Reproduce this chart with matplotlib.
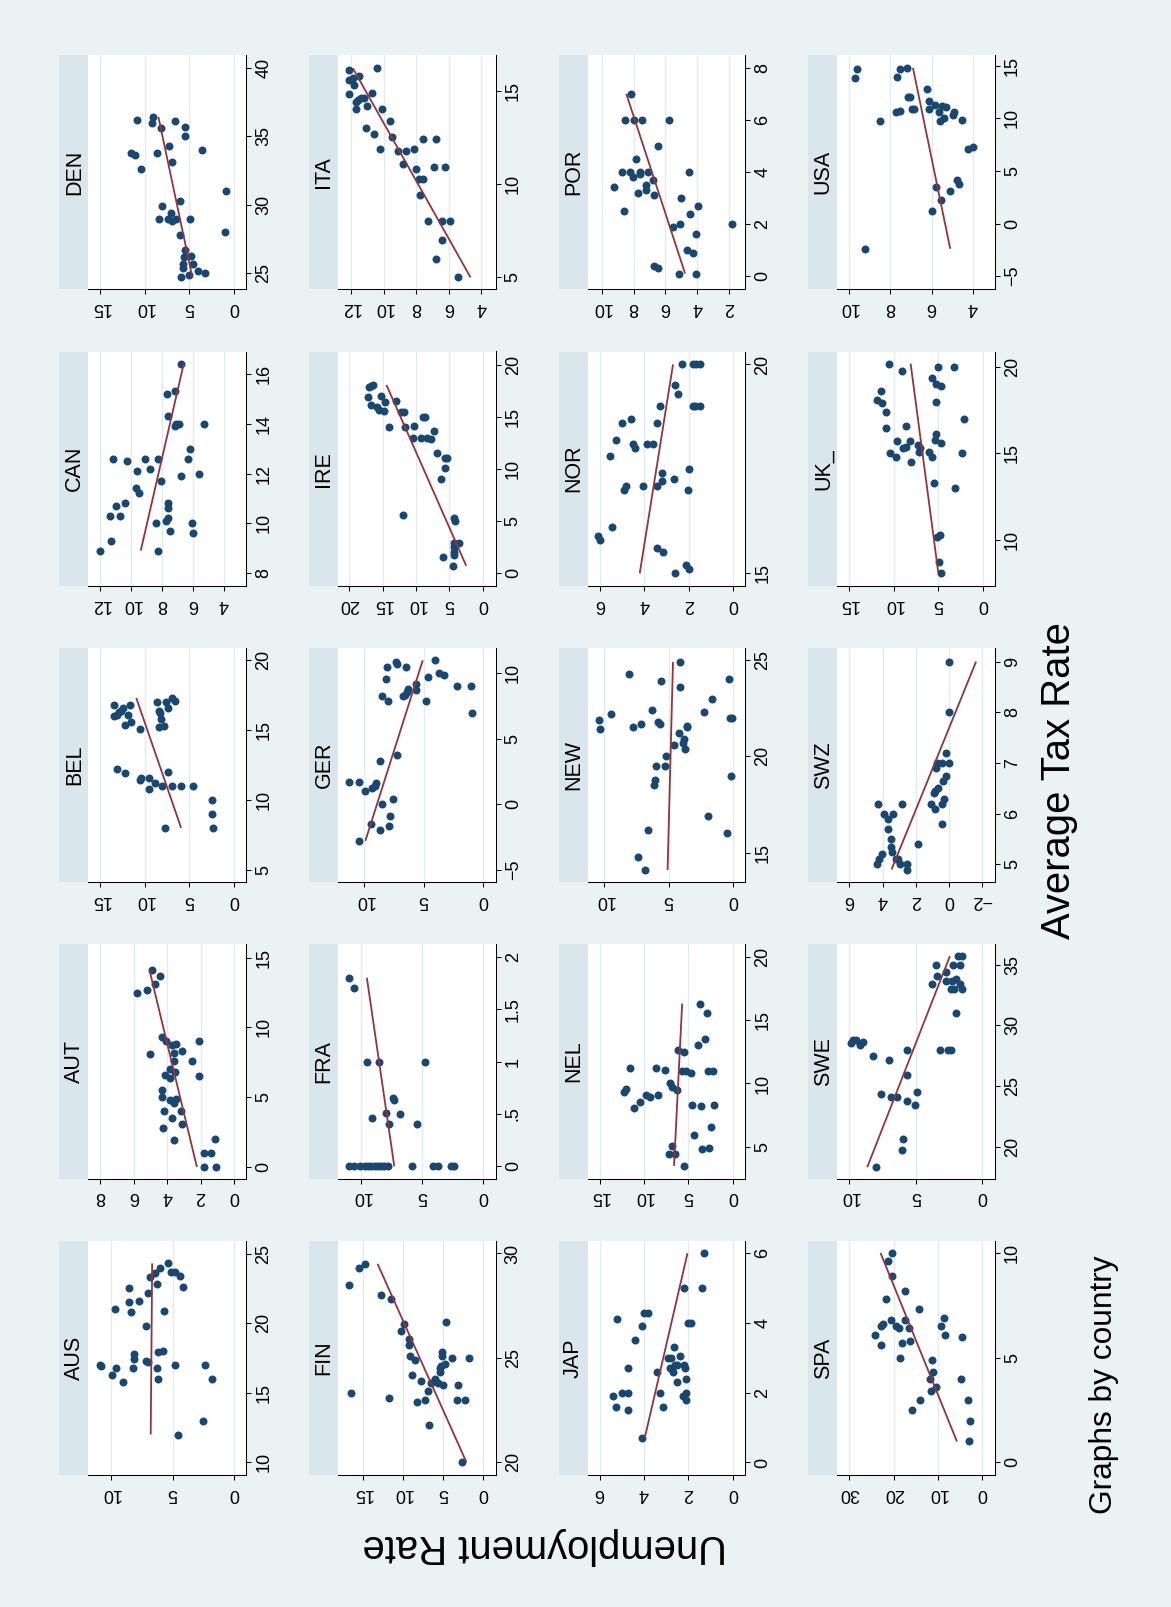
import numpy as np
import matplotlib
matplotlib.use("Agg")
import matplotlib.pyplot as plt

# ---------------------------------------------------------------- data
countries = ["AUS", "AUT", "BEL", "CAN", "DEN",
             "FIN", "FRA", "GER", "IRE", "ITA",
             "JAP", "NEL", "NEW", "NOR", "POR",
             "SPA", "SWE", "SWZ", "UK_", "USA"]

aus_tax = [24.3, 24.0, 23.6, 23.3, 23.7, 23.7, 23.4, 22.6, 22.8, 22.5, 22.2, 21.5, 21.6, 21.0, 20.8, 20.9, 19.8, 17.8,
           17.4, 17.9, 18.0, 17.3, 17.2, 17.0, 16.9, 16.8, 16.8, 16.8, 17.0, 17.0, 16.3, 15.8, 16.0, 16.0, 13.0, 12.0]
aus_unemp = [5.4, 6.0, 6.4, 6.8, 5.1, 4.8, 4.4, 4.2, 6.3, 8.5, 7.0, 8.5, 7.7, 9.7, 8.4, 5.7, 7.2, 8.1,
             8.1, 6.2, 5.8, 7.2, 7.0, 10.9, 10.8, 9.6, 8.2, 6.3, 4.8, 2.4, 9.9, 9.0, 6.2, 1.8, 2.5, 4.6]

aut_tax = [14.1, 13.7, 13.1, 12.7, 12.5, 9.3, 9.0, 9.0, 8.75, 8.8, 8.2, 8.3, 8.1, 7.6, 7.6, 7.0, 6.8, 6.6,
           6.4, 6.5, 5.5, 5.0, 4.8, 4.85, 4.6, 4.0, 4.0, 3.5, 2.8, 3.1, 1.9, 2.0, 1.0, 1.0, 0.0, 0.0]
aut_unemp = [4.9, 4.4, 4.75, 5.2, 5.8, 4.3, 4.05, 2.1, 3.7, 3.5, 3.6, 3.1, 5.0, 3.6, 2.5, 3.8, 3.55, 4.1,
             3.8, 2.1, 4.3, 4.3, 3.8, 3.5, 3.6, 4.2, 3.2, 3.7, 4.25, 3.1, 3.6, 1.15, 1.8, 1.35, 1.8, 1.1]

bel_tax = [16.8, 16.8, 16.6, 16.4, 16.3, 16.1, 16.0, 16.1, 15.6, 15.4, 15.1, 17.0, 17.3, 17.1, 17.0, 16.6, 16.4, 16.2,
           15.8, 15.2, 15.3, 12.2, 11.9, 12.0, 11.6, 11.6, 11.4, 11.2, 11.0, 11.0, 11.0, 11.0, 10.8, 10.0, 9.0, 8.0, 8.0]
bel_unemp = [13.5, 11.7, 12.5, 12.7, 12.9, 13.1, 13.5, 11.9, 11.6, 12.2, 10.6, 8.6, 7.0, 6.6, 7.6, 7.4, 8.4, 8.3,
             8.2, 8.4, 7.9, 13.1, 12.2, 7.4, 10.4, 9.5, 10.5, 8.9, 8.1, 6.9, 6.0, 4.6, 9.5, 2.5, 2.5, 2.4, 7.7]

can_tax = [16.4, 15.3, 15.2, 14.3, 14.0, 14.0, 13.9, 14.0, 13.0, 12.6, 12.6, 12.5, 12.6, 12.6, 12.2, 12.1, 12.0, 11.9,
           11.7, 11.4, 11.2, 10.8, 10.7, 10.8, 10.6, 10.2, 10.1, 10.3, 10.3, 10.0, 10.0, 9.7, 9.6, 9.3, 8.9, 8.9]
can_unemp = [6.8, 7.2, 7.7, 7.6, 6.9, 7.1, 7.2, 5.3, 6.2, 6.3, 11.2, 10.3, 9.1, 8.3, 8.8, 9.6, 5.6, 6.8,
             8.1, 9.7, 9.5, 10.4, 11.0, 7.6, 7.6, 7.6, 7.75, 11.4, 10.7, 8.4, 6.1, 7.5, 6.0, 11.3, 12.0, 8.3]

den_tax = [36.2, 36.4, 36.0, 36.1, 35.7, 35.6, 35.0, 34.3, 33.8, 33.6, 33.8, 34.0, 33.1, 32.6, 31.0, 30.3, 29.9, 29.4,
           29.0, 29.0, 28.8, 29.0, 29.0, 27.8, 28.0, 26.7, 26.3, 26.2, 25.7, 25.7, 25.4, 25.2, 25.0, 24.9, 24.7]
den_unemp = [10.9, 9.1, 9.2, 6.6, 5.5, 8.2, 5.5, 7.3, 11.6, 11.1, 8.6, 3.6, 6.9, 10.4, 0.9, 6.1, 8.1, 7.1,
             8.4, 7.4, 7.0, 6.5, 4.9, 6.1, 1.0, 5.5, 4.8, 5.6, 4.6, 5.7, 5.7, 4.0, 3.3, 5.0, 5.9]

fin_tax = [29.5, 29.3, 28.5, 28.0, 27.8, 26.6, 26.3, 26.7, 25.9, 25.6, 25.1, 24.9, 25.3, 25.1, 25.0, 25.0, 24.7, 24.6,
           24.5, 24.3, 24.2, 23.9, 24.0, 23.8, 23.8, 23.7, 23.7, 23.4, 23.3, 23.1, 22.9, 23.0, 23.0, 23.0, 21.8, 20.0]
fin_unemp = [14.7, 15.5, 16.7, 12.75, 11.5, 9.9, 10.3, 4.6, 9.2, 9.2, 9.1, 8.5, 5.1, 5.1, 3.9, 1.75, 4.7, 5.2,
             5.4, 5.4, 8.9, 7.75, 6.0, 6.5, 5.6, 5.0, 3.1, 6.9, 16.5, 11.8, 8.3, 7.3, 3.2, 2.3, 6.7, 2.6]

fra_tax = [1.8, 1.7, 1.0, 1.0, 1.0, 0.65, 0.63, 0.51, 0.50, 0.46, 0.40, 0.40,
           0, 0, 0, 0, 0, 0, 0, 0, 0, 0, 0, 0, 0, 0, 0, 0]
fra_unemp = [11.0, 10.6, 9.5, 8.55, 4.8, 7.4, 7.3, 8.0, 6.8, 9.1, 7.7, 5.4,
             11.0, 10.6, 10.1, 9.7, 9.45, 9.2, 8.9, 8.6, 8.4, 8.1, 7.8, 5.8, 4.1, 3.7, 2.6, 2.4]

ger_tax = [11.0, 10.9, 10.7, 10.5, 10.5, 10.0, 9.9, 9.7, 9.6, 9.2, 9.0, 9.0, 8.8, 8.6, 8.7, 8.3, 8.35, 8.3,
           7.9, 7.9, 7.0, 3.8, 3.3, 1.7, 1.7, 1.6, 1.4, 1.25, 1.0, 0.4, 0.0, -0.9, -1.5, -1.7, -2.0, -2.8]
ger_unemp = [4.0, 7.3, 7.2, 8.1, 6.5, 3.7, 3.3, 4.6, 8.2, 5.6, 2.2, 1.0, 6.3, 6.4, 5.65, 6.7, 6.6, 8.5,
             8.0, 4.8, 0.9, 7.2, 8.7, 11.3, 10.4, 9.0, 9.1, 9.35, 9.9, 7.6, 8.5, 7.8, 9.4, 7.9, 8.7, 10.4]

ire_tax = [18.05, 17.9, 17.8, 16.9, 17.0, 16.5, 16.4, 16.1, 15.9, 15.6, 15.5, 15.4, 15.4, 15.0, 15.0, 14.0, 14.0, 14.1,
           13.6, 13.0, 13.0, 13.0, 12.9, 11.5, 11.0, 11.0, 10.1, 9.0, 5.6, 5.3, 5.0, 2.9, 2.9, 2.5, 2.05, 1.7, 1.5, 0.7]
ire_unemp = [16.4, 16.8, 17.1, 17.2, 15.2, 13.0, 14.7, 16.8, 15.8, 15.6, 14.8, 12.2, 11.8, 9.0, 8.7, 14.0, 11.6, 10.3,
             7.3, 10.5, 9.3, 8.4, 7.8, 6.8, 5.7, 5.3, 5.7, 6.2, 11.9, 4.3, 4.2, 4.4, 3.6, 4.3, 4.3, 4.4, 6.0, 4.5]

ita_tax = [16.1, 16.2, 15.6, 15.7, 15.8, 15.3, 14.8, 14.9, 14.4, 14.5, 14.6, 14.6, 14.2, 14.0, 14.0, 13.4, 13.0, 12.7,
           12.5, 12.4, 12.4, 11.9, 11.8, 11.8, 11.9, 11.1, 10.8, 10.9, 10.9, 10.3, 10.3, 9.4, 8.0, 8.0, 8.0, 7.0, 6.0, 5.0]
ita_unemp = [12.1, 10.4, 12.1, 11.9, 11.5, 11.8, 12.1, 10.7, 11.7, 11.55, 11.4, 11.2, 11.0, 11.7, 10.1, 9.6, 11.1, 10.6,
             9.5, 7.6, 6.8, 10.2, 9.1, 8.65, 8.1, 8.8, 8.0, 6.9, 6.2, 7.8, 7.6, 7.75, 7.3, 6.4, 5.9, 6.4, 6.8, 5.4]

jap_tax = [6.0, 5.0, 5.0, 4.3, 4.3, 4.1, 3.9, 4.0, 4.0, 3.5, 3.3, 3.0, 3.0, 3.05, 2.7, 2.7, 2.8, 2.8,
           2.8, 2.7, 2.6, 2.6, 2.4, 2.3, 2.0, 2.0, 2.0, 1.9, 2.0, 1.9, 1.8, 1.6, 1.6, 1.5, 0.7]
jap_unemp = [1.3, 2.2, 1.4, 4.0, 3.8, 5.2, 4.1, 2.0, 1.9, 4.4, 2.65, 2.9, 2.8, 2.4, 4.7, 2.85, 2.6, 2.5,
             2.2, 2.15, 2.7, 3.4, 2.1, 2.5, 5.0, 4.7, 3.3, 5.4, 2.1, 2.25, 2.1, 5.25, 3.15, 4.7, 4.1]

nel_tax = [16.3, 15.55, 13.5, 13.0, 12.6, 12.45, 11.2, 11.2, 11.1, 11.0, 11.0, 11.0, 11.0, 10.8, 10.0, 9.7, 9.5, 9.6,
           9.3, 9.1, 8.9, 9.1, 8.5, 8.1, 8.3, 8.2, 8.3, 6.6, 5.9, 5.1, 4.8, 4.9, 4.4, 4.4, 3.5]
nel_unemp = [3.7, 2.9, 3.15, 3.9, 6.2, 5.5, 11.6, 8.6, 7.6, 5.7, 5.3, 2.85, 2.25, 4.7, 7.1, 6.8, 6.3, 12.0,
             12.2, 9.75, 9.3, 8.4, 10.5, 11.1, 4.6, 3.6, 2.1, 2.5, 4.35, 6.9, 3.5, 2.7, 7.2, 6.5, 5.55]

new_tax = [24.9, 24.3, 23.9, 24.0, 23.6, 23.0, 22.4, 22.2, 22.3, 21.9, 22.0, 22.0, 21.8, 21.7, 21.7, 21.5, 21.6, 21.5,
           21.4, 21.2, 20.9, 20.6, 20.7, 20.4, 20.0, 19.5, 19.5, 19.0, 18.8, 18.5, 16.9, 16.2, 16.0, 14.8, 14.1]
new_unemp = [4.1, 8.1, 5.6, 0.3, 4.1, 1.6, 6.3, 9.5, 2.25, 10.4, 0.25, 0.05, 5.8, 5.7, 7.15, 7.8, 3.55, 3.6,
             10.3, 4.2, 3.8, 4.6, 3.9, 3.7, 5.2, 6.0, 5.3, 0.15, 6.05, 6.1, 1.9, 6.6, 0.45, 7.4, 6.8]

nor_tax = [20.0, 20.0, 20.0, 20.0, 19.5, 19.3, 19.0, 19.0, 19.0, 19.0, 18.7, 18.6, 18.6, 18.2, 18.1, 18.0, 18.1, 18.1,
           17.8, 17.5, 17.4, 17.25, 17.2, 17.1, 17.0, 17.1, 17.1, 17.0, 16.1, 15.9, 15.8, 15.6, 15.5, 15.2, 15.1, 15.0]
nor_unemp = [2.3, 1.8, 1.65, 1.5, 2.6, 2.5, 3.3, 1.8, 1.7, 1.5, 4.6, 5.0, 3.45, 5.3, 4.5, 4.45, 3.9, 3.6,
             5.55, 2.0, 3.2, 2.65, 3.2, 4.85, 4.95, 4.05, 3.45, 2.05, 5.45, 6.1, 6.0, 3.45, 3.15, 2.1, 2.0, 2.6]

por_tax = [7.0, 6.0, 6.0, 6.0, 6.0, 5.0, 4.5, 4.0, 4.0, 4.0, 4.0, 4.0, 3.8, 3.9, 3.7, 3.4, 3.5, 3.3,
           3.2, 3.1, 3.0, 2.5, 2.7, 2.4, 1.9, 2.0, 2.0, 1.6, 1.0, 0.9, 0.4, 0.3, 0.1, 0.1]
por_unemp = [8.15, 8.55, 7.95, 7.45, 5.8, 6.45, 7.85, 8.7, 8.2, 7.6, 7.1, 4.55, 8.05, 7.6, 6.8, 9.25, 7.2, 7.2,
             7.7, 6.75, 5.0, 8.6, 3.95, 4.45, 5.5, 5.1, 1.8, 4.1, 4.65, 4.3, 6.75, 6.45, 5.15, 4.1]

spa_tax = [10.0, 9.6, 8.9, 8.2, 7.8, 7.3, 6.9, 6.8, 6.8, 6.6, 6.5, 6.5, 6.4, 6.4, 6.5, 6.1, 6.1, 6.0,
           5.8, 5.7, 5.6, 5.0, 4.9, 4.3, 4.0, 4.0, 3.6, 3.4, 3.0, 3.0, 2.5, 2.0, 1.0]
spa_unemp = [20.3, 21.2, 20.3, 17.5, 21.7, 14.3, 8.6, 20.7, 17.4, 22.3, 22.9, 19.5, 18.8, 16.6, 9.2, 24.3, 8.3, 4.6,
             16.3, 18.2, 22.9, 18.5, 11.3, 11.0, 11.8, 4.7, 10.5, 11.6, 14.0, 3.3, 15.8, 2.7, 3.0]

swe_tax = [35.7, 35.7, 35.0, 35.0, 35.0, 34.4, 34.1, 33.85, 33.65, 33.65, 33.4, 33.4, 33.0, 33.0, 33.0, 31.0, 28.0, 28.0,
           28.0, 28.55, 28.75, 28.75, 28.65, 28.4, 28.0, 27.45, 27.1, 25.9, 24.5, 24.3, 24.1, 24.1, 23.8, 23.4, 20.6, 19.7, 18.3]
swe_unemp = [1.85, 1.55, 3.45, 2.2, 1.65, 2.75, 3.4, 2.0, 2.7, 2.3, 3.75, 1.7, 2.35, 2.1, 1.55, 1.95, 3.2, 2.55,
             2.35, 9.9, 9.7, 9.5, 9.0, 9.2, 5.7, 8.2, 7.0, 5.7, 4.9, 7.6, 6.9, 6.4, 5.7, 5.05, 6.0, 6.05, 8.0]

swz_tax = [9.0, 8.0, 7.2, 7.0, 7.0, 7.0, 6.9, 6.75, 6.65, 6.5, 6.45, 6.4, 6.3, 6.2, 6.2, 6.1, 5.8, 6.2,
           6.0, 6.2, 5.9, 6.0, 5.7, 5.5, 5.35, 5.4, 5.2, 5.25, 5.1, 5.0, 5.1, 5.1, 5.0, 5.0, 4.9]
swz_unemp = [0.0, 0.0, 0.2, 0.7, 0.4, 0.0, 0.8, 0.2, 0.35, 0.65, 0.85, 0.9, 0.3, 0.45, 1.1, 0.85, 0.45, 4.3,
             3.9, 2.85, 3.7, 3.35, 3.7, 3.5, 3.5, 1.85, 4.05, 3.45, 4.2, 4.35, 3.2, 3.1, 2.95, 2.5, 2.55]

uk_tax = [20.2, 20.0, 20.0, 19.8, 19.35, 19.0, 18.9, 18.6, 18.1, 17.9, 18.0, 17.4, 17.0, 16.5, 16.6, 16.1, 15.8, 15.7,
          15.7, 15.6, 15.5, 15.4, 15.3, 15.3, 15.1, 15.1, 15.0, 14.8, 14.8, 15.0, 14.5, 13.3, 13.0, 10.3, 10.15, 8.7, 8.1]
uk_unemp = [10.5, 5.0, 3.3, 9.1, 5.7, 5.25, 4.7, 11.4, 11.9, 11.3, 5.3, 10.8, 2.1, 10.9, 8.6, 5.3, 5.4, 9.6,
            8.2, 4.7, 7.3, 8.6, 8.9, 7.0, 7.2, 6.0, 10.35, 9.7, 5.7, 2.3, 8.0, 5.5, 3.1, 4.8, 5.1, 4.9, 4.7]

usa_tax = [14.7, 13.8, 14.7, 14.8, 13.9, 12.8, 12.05, 12.0, 11.65, 11.3, 11.2, 11.1, 10.9, 10.9, 10.9, 10.7, 10.6, 10.6,
           10.6, 10.3, 10.0, 9.85, 9.7, 9.7, 7.1, 7.25, 4.1, 3.8, 3.5, 3.1, 2.2, 1.2, -2.4]
usa_unemp = [9.6, 9.7, 7.55, 7.2, 7.65, 6.2, 7.15, 7.05, 6.1, 5.85, 5.5, 5.3, 6.1, 6.95, 6.85, 7.55, 7.7, 5.65,
             4.9, 4.95, 5.4, 4.55, 5.6, 8.5, 4.25, 4.0, 4.75, 4.65, 5.8, 5.1, 5.55, 6.0, 9.2]

# tick values per country
tax_ticks = {
    "AUS": [10, 15, 20, 25], "AUT": [0, 5, 10, 15], "BEL": [5, 10, 15, 20], "CAN": [8, 10, 12, 14, 16],
    "DEN": [25, 30, 35, 40], "FIN": [20, 25, 30], "FRA": [0, 0.5, 1, 1.5, 2], "GER": [-5, 0, 5, 10],
    "IRE": [0, 5, 10, 15, 20], "ITA": [5, 10, 15], "JAP": [0, 2, 4, 6], "NEL": [5, 10, 15, 20],
    "NEW": [15, 20, 25], "NOR": [15, 20], "POR": [0, 2, 4, 6, 8], "SPA": [0, 5, 10],
    "SWE": [20, 25, 30, 35], "SWZ": [5, 6, 7, 8, 9], "UK_": [10, 15, 20], "USA": [-5, 0, 5, 10, 15],
}
unemp_ticks = {
    "AUS": [0, 5, 10], "AUT": [0, 2, 4, 6, 8], "BEL": [0, 5, 10, 15], "CAN": [4, 6, 8, 10, 12],
    "DEN": [0, 5, 10, 15], "FIN": [0, 5, 10, 15], "FRA": [0, 5, 10], "GER": [0, 5, 10],
    "IRE": [0, 5, 10, 15, 20], "ITA": [4, 6, 8, 10, 12], "JAP": [0, 2, 4, 6], "NEL": [0, 5, 10, 15],
    "NEW": [0, 5, 10], "NOR": [0, 2, 4, 6], "POR": [2, 4, 6, 8, 10], "SPA": [0, 10, 20, 30],
    "SWE": [0, 5, 10], "SWZ": [-2, 0, 2, 4, 6], "UK_": [0, 5, 10, 15], "USA": [4, 6, 8, 10],
}
# axis ranges per country
tax_range = {
    "AUS": (9.09, 25.93), "AUT": (-0.84, 15.96), "BEL": (4.11, 20.89), "CAN": (7.49, 16.90),
    "DEN": (23.83, 40.92), "FIN": (19.39, 30.61), "FRA": (-0.118, 2.12), "GER": (-5.96, 11.95),
    "IRE": (-1.22, 21.25), "ITA": (4.36, 16.91), "JAP": (-0.36, 6.36), "NEL": (2.5, 20.97),
    "NEW": (13.47, 25.63), "NOR": (14.70, 20.31), "POR": (-0.51, 8.48), "SPA": (-0.60, 10.58),
    "SWE": (17.36, 36.68), "SWZ": (4.65, 9.27), "UK_": (7.34, 20.90), "USA": (-6.26, 16.01),
}
unemp_range = {
    "AUS": (-0.95, 11.84), "AUT": (-0.72, 8.72), "BEL": (-1.35, 16.35), "CAN": (2.58, 12.78),
    "DEN": (-1.35, 16.35), "FIN": (-1.58, 18.13), "FRA": (-1.04, 11.92), "GER": (-1.07, 12.22),
    "IRE": (-1.90, 21.70), "ITA": (3.12, 12.80), "JAP": (-0.55, 6.54), "NEL": (-1.39, 16.35),
    "NEW": (-0.96, 11.30), "NOR": (-0.56, 6.58), "POR": (1.0, 10.89), "SPA": (-2.85, 32.78),
    "SWE": (-0.95, 10.93), "SWZ": (-2.76, 6.74), "UK_": (-1.31, 16.31), "USA": (2.94, 10.57),
}

series = {
    "AUS": (aus_tax, aus_unemp), "AUT": (aut_tax, aut_unemp), "BEL": (bel_tax, bel_unemp),
    "CAN": (can_tax, can_unemp), "DEN": (den_tax, den_unemp), "FIN": (fin_tax, fin_unemp),
    "FRA": (fra_tax, fra_unemp), "GER": (ger_tax, ger_unemp), "IRE": (ire_tax, ire_unemp),
    "ITA": (ita_tax, ita_unemp), "JAP": (jap_tax, jap_unemp), "NEL": (nel_tax, nel_unemp),
    "NEW": (new_tax, new_unemp), "NOR": (nor_tax, nor_unemp), "POR": (por_tax, por_unemp),
    "SPA": (spa_tax, spa_unemp), "SWE": (swe_tax, swe_unemp), "SWZ": (swz_tax, swz_unemp),
    "UK_": (uk_tax, uk_unemp), "USA": (usa_tax, usa_unemp),
}

# ---------------------------------------------------------------- style
W, H, DPI = 1171, 1607, 100
BG = "#EAF2F3"
STRIP = "#D9E6EB"
GRIDC = "#E2ECEF"
NAVY = "#1A476F"
MAROON = "#90353B"
FONT = ["Liberation Sans", "DejaVu Sans"]
plt.rcParams["font.family"] = FONT

fig = plt.figure(figsize=(W / DPI, H / DPI), dpi=DPI, facecolor=BG)


def rect(left, top, width, height):
    return [left / W, 1 - (top + height) / H, width / W, height / H]


def tick_text(v):
    s = f"{v:g}"
    if s.startswith("0.") and v != 0:
        s = s[1:]
    return s.replace("-", "\u2212")


STRIP_W, PLOT_W, PANEL_H = 29.0, 157.7, 234.3
COL_X0, COL_STEP = 59.3, 249.6
ROW_TOP0, ROW_STEP = 1240.7, 296.4

for idx, c in enumerate(countries):
    col = idx // 5          # group of five countries per column
    k = idx % 5             # position within the column, counted from the bottom
    x0 = COL_X0 + col * COL_STEP
    top = ROW_TOP0 - k * ROW_STEP

    # header band carrying the country name
    sax = fig.add_axes(rect(x0, top, STRIP_W, PANEL_H), facecolor=STRIP)
    sax.set_xticks([])
    sax.set_yticks([])
    for sp in sax.spines.values():
        sp.set_visible(False)
    sax.text(0.52, 0.5, c, rotation=90, ha="center", va="center",
             fontsize=15.5, color="black", transform=sax.transAxes)

    ax = fig.add_axes(rect(x0 + STRIP_W, top, PLOT_W, PANEL_H), facecolor="white")
    tax = np.asarray(series[c][0], dtype=float)
    unemp = np.asarray(series[c][1], dtype=float)

    ax.scatter(unemp, tax, s=33, color=NAVY, linewidths=0, zorder=3)
    slope, icept = np.polyfit(tax, unemp, 1)
    tt = np.array([tax.min(), tax.max()])
    ax.plot(icept + slope * tt, tt, color=MAROON, lw=1.3, zorder=4,
            solid_capstyle="butt")

    lo, hi = unemp_range[c]
    ax.set_xlim(hi, lo)
    ax.set_ylim(*tax_range[c])

    ax.set_xticks(unemp_ticks[c])
    ax.set_xticklabels([tick_text(v) for v in unemp_ticks[c]], rotation=180,
                       fontsize=13)
    ax.set_yticks(tax_ticks[c])
    ax.set_yticklabels([tick_text(v) for v in tax_ticks[c]], rotation=90,
                       fontsize=13, va="center")
    ax.yaxis.tick_right()
    ax.tick_params(axis="both", direction="out", length=3.6, width=0.75,
                   color="black", labelcolor="black")
    ax.tick_params(axis="x", pad=3.5)
    ax.tick_params(axis="y", pad=3.0)

    ax.grid(axis="x", color=GRIDC, lw=1.0)
    ax.grid(axis="y", visible=False)
    ax.set_axisbelow(True)
    for side in ("top", "left"):
        ax.spines[side].set_visible(False)
    for side in ("right", "bottom"):
        ax.spines[side].set_color("black")
        ax.spines[side].set_linewidth(0.75)

# overall titles and note
fig.text(1059 / W, 1 - 781 / H, "Average Tax Rate", rotation=90,
         ha="center", va="center", fontsize=28.8)
fig.text(545 / W, 1 - 1546 / H, "Unemployment Rate", rotation=180,
         ha="center", va="center", fontsize=28.8)
fig.text(1104 / W, 1 - 1514 / H, "Graphs by country", rotation=90,
         ha="center", va="bottom", fontsize=22.8)

fig.savefig("out.png", dpi=DPI, facecolor=BG)
